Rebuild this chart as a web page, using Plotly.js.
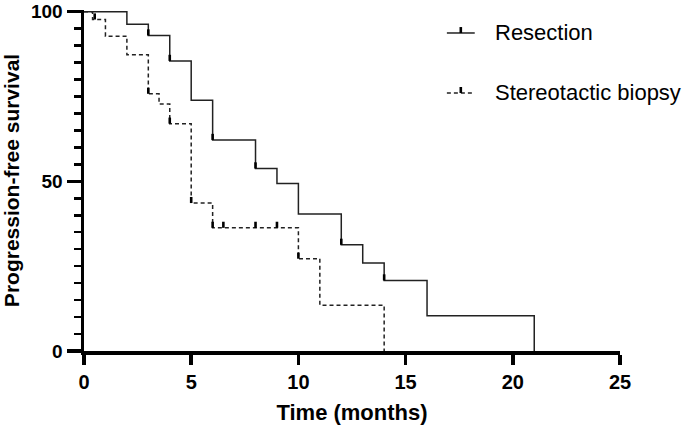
<!DOCTYPE html>
<html>
<head>
<meta charset="utf-8">
<script src="https://cdn.plot.ly/plotly-3.0.1.min.js"></script>
<style>html,body{margin:0;padding:0;background:#fff;}#chart{width:685px;height:430px;}</style>
</head>
<body>
<div id="chart"></div>
<script>
// Resection group: step times and survival levels
var resectionTime = [0, 2, 3, 4, 5, 6, 8, 9, 10, 12, 13, 14, 16, 21];
var resectionSurv = [100, 96.3, 93.0, 85.5, 73.9, 62.2, 53.8, 49.4, 40.4, 31.3, 25.9, 20.8, 10.4, 0];
var resectionCensorTime = [3, 4, 6, 8, 12, 14];
var resectionCensorSurv = [93.0, 85.5, 62.2, 53.8, 31.3, 20.8];

// Stereotactic biopsy group
var biopsyTime = [0, 0.4, 1, 2, 3, 3.5, 4, 5, 6, 10, 11, 14];
var biopsySurv = [100, 97.7, 92.8, 87.3, 75.8, 72.8, 67.0, 43.6, 36.3, 27.2, 13.5, 0];
var biopsyCensorTime = [0.5, 3, 4, 5, 6, 6.5, 8, 9, 10];
var biopsyCensorSurv = [97.7, 75.8, 67.0, 43.6, 36.3, 36.3, 36.3, 36.3, 27.2];

var seriesNames = ["Resection", "Stereotactic biopsy"];
var xTickVals = [0, 5, 10, 15, 20, 25];
var yTickVals = [0, 50, 100];
var yMinorStep = 5;

var FONT = "Liberation Sans, Arial, Helvetica, sans-serif";

function censor(x, y) {
  return {
    x: x, y: y, type: "scatter", mode: "markers", showlegend: false, hoverinfo: "skip",
    marker: {size: 1, color: "rgba(0,0,0,0)"},
    error_y: {type: "constant", symmetric: false, value: 1.8, valueminus: 0, width: 0, thickness: 2.6, color: "#000"}
  };
}

var traces = [
  {x: resectionTime, y: resectionSurv, type: "scatter", mode: "lines", name: seriesNames[0],
   line: {shape: "hv", color: "#222", width: 1.5}, showlegend: false},
  {x: biopsyTime, y: biopsySurv, type: "scatter", mode: "lines", name: seriesNames[1],
   line: {shape: "hv", color: "#222", width: 1.5, dash: "4px,3px"}, showlegend: false},
  censor(resectionCensorTime, resectionCensorSurv),
  censor(biopsyCensorTime, biopsyCensorSurv)
];

var layout = {
  width: 685, height: 430,
  margin: {l: 84, r: 65, t: 10, b: 79},
  showlegend: false,
  font: {family: FONT, color: "#000"},
  xaxis: {
    range: [0, 25], tickmode: "array", tickvals: xTickVals,
    ticks: "outside", ticklen: 10, tickwidth: 3.5, tickcolor: "#000",
    showline: true, linewidth: 3.5, linecolor: "#000", showgrid: false, zeroline: false,
    tickfont: {family: FONT, size: 20, weight: "bold"},
    title: {text: "Time (months)", font: {family: FONT, size: 22, weight: "bold"}, standoff: 14}
  },
  yaxis: {
    range: [0, 100.5], tickmode: "array", tickvals: yTickVals,
    ticks: "outside", ticklen: 14, tickwidth: 3.5, tickcolor: "#000",
    minor: {tickmode: "linear", dtick: yMinorStep, tick0: 0, ticks: "outside", ticklen: 7, tickwidth: 2.5, tickcolor: "#000", showgrid: false},
    showline: true, linewidth: 3.5, linecolor: "#000", showgrid: false, zeroline: false,
    tickfont: {family: FONT, size: 19, weight: "bold"},
    title: {text: "Progression-free survival", font: {family: FONT, size: 21, weight: "bold"}, standoff: 8}
  },
  shapes: [
    {type: "line", xref: "paper", yref: "paper", x0: 0.677, x1: 0.729, y0: 0.9326, y1: 0.9326, line: {color: "#222", width: 1.5}},
    {type: "line", xref: "paper", yref: "paper", x0: 0.703, x1: 0.703, y0: 0.9326, y1: 0.950, line: {color: "#000", width: 2.6}},
    {type: "line", xref: "paper", yref: "paper", x0: 0.677, x1: 0.729, y0: 0.7566, y1: 0.7566, line: {color: "#222", width: 1.5, dash: "4px,3px"}},
    {type: "line", xref: "paper", yref: "paper", x0: 0.703, x1: 0.703, y0: 0.7566, y1: 0.7742, line: {color: "#000", width: 2.6}}
  ],
  annotations: [
    {xref: "paper", yref: "paper", x: 0.763, y: 0.9326, xanchor: "left", yanchor: "middle", showarrow: false,
     text: seriesNames[0], font: {family: FONT, size: 22, color: "#000"}},
    {xref: "paper", yref: "paper", x: 0.763, y: 0.7566, xanchor: "left", yanchor: "middle", showarrow: false,
     text: seriesNames[1], font: {family: FONT, size: 22, color: "#000"}}
  ]
};

Plotly.newPlot("chart", traces, layout, {displayModeBar: false, staticPlot: true});
</script>
</body>
</html>
